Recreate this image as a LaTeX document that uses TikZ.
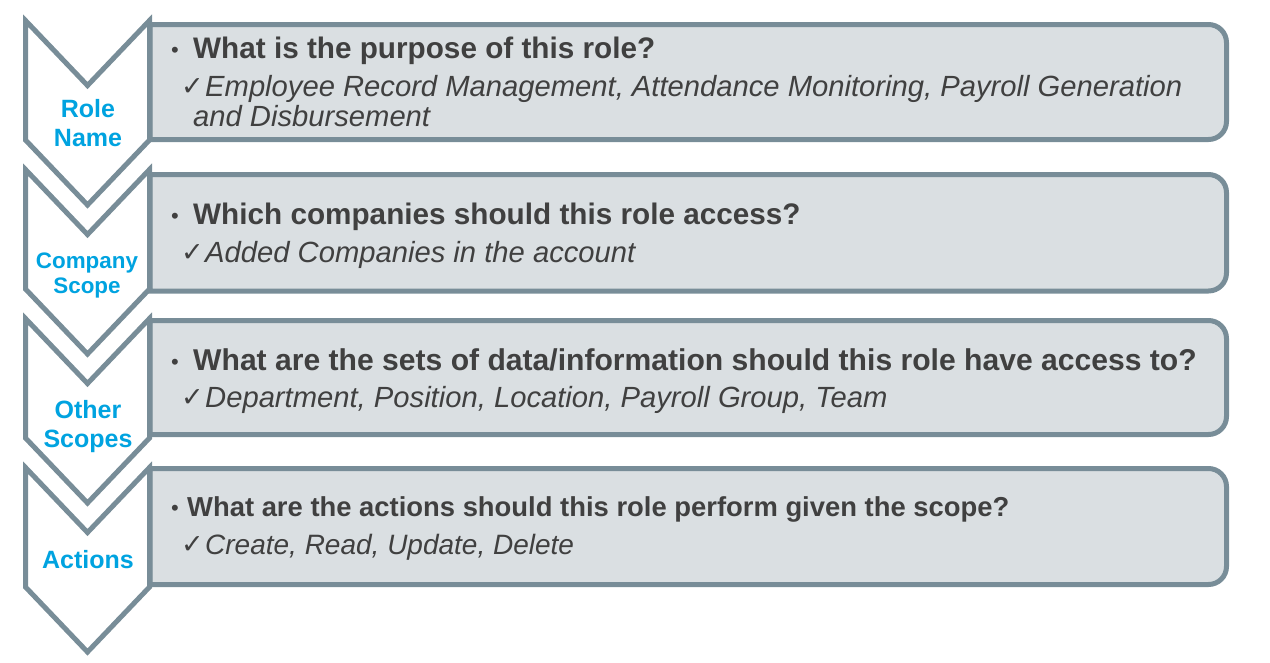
\documentclass[tikz,border=0pt]{standalone}
\usepackage{fontspec}
\setmainfont{Liberation Sans}
\newfontfamily\chkfont{DejaVu Sans}
\definecolor{edge}{RGB}{120,141,152}
\definecolor{boxfill}{RGB}{218,223,226}
\definecolor{lblblue}{RGB}{0,163,224}
\definecolor{txt}{RGB}{64,64,64}
\tikzset{
  chev/.style={draw=edge, line width=5pt, fill=white, line join=miter},
  panel/.style={draw=edge, line width=5pt, fill=boxfill},
  lbl/.style={text=lblblue, font=\bfseries\fontsize{25}{29}\selectfont, align=center, inner sep=0pt},
  lblsmall/.style={lbl, font=\bfseries\fontsize{22.4}{25}\selectfont},
  head/.style={anchor=base west, inner sep=0pt, text=txt, font=\bfseries\fontsize{29.7}{34}\selectfont},
  headwide/.style={head, font=\bfseries\fontsize{30.1}{34}\selectfont},
  headsmall/.style={head, font=\bfseries\fontsize{27.4}{32}\selectfont},
  sub/.style={anchor=base west, inner sep=0pt, text=txt, font=\itshape\fontsize{29.2}{33}\selectfont},
  subsmall/.style={sub, font=\itshape\fontsize{28}{32}\selectfont},
  bul/.style={anchor=base, inner sep=0pt, text=txt, font=\fontsize{22}{24}\selectfont},
  chk/.style={anchor=base west, inner sep=0pt, text=txt, font=\chkfont\fontsize{27}{30}\selectfont},
}
\begin{document}
\begin{tikzpicture}[x=1pt,y=-1pt]
\useasboundingbox (0,0) rectangle (1270,662);
% panels
\foreach \t/\b in {24.5/139.5, 174.5/291, 320.5/434.5, 468.5/584.5}{
  \draw[panel] (150,\t) [rounded corners=18pt] -- (1226.5,\t) -- (1226.5,\b) [sharp corners] -- (150,\b) -- cycle;
}
% chevrons
\foreach \t in {20.5,169.5,318.5,467.5}{
  \draw[chev] (25.5,\t) -- (87.5,\t+65) -- (149.5,\t) -- (149.5,\t+119.5) -- (87.5,\t+184.5) -- (25.5,\t+119.5) -- cycle;
}
% chevron labels
\node[lbl] (role) at (88,123) {Role\\Name};
\node[lblsmall] (company) at (87,275) {Company\\Scope};
\node[lbl] (other) at (88,427) {Other\\Scopes};
\node[lbl] (actions) at (88,560) {Actions};
% panel 1
\node[bul] (b1) at (175,57) {•};
\node[head] (h1) at (193,58) {What is the purpose of this role?};
\node[chk] (c1) at (181,95) {✓};
\node[sub] (s1) at (205,96) {Employee Record Management, Attendance Monitoring, Payroll Generation};
\node[sub] (s1b) at (193,126) {and Disbursement};
% panel 2
\node[bul] (b2) at (175,223) {•};
\node[head] (h2) at (193,224) {Which companies should this role access?};
\node[chk] (c2) at (181,261) {✓};
\node[sub] (s2) at (205,262) {Added Companies in the account};
% panel 3
\node[bul] (b3) at (175,369) {•};
\node[headwide] (h3) at (193,370) {What are the sets of data/information should this role have access to?};
\node[chk] (c3) at (181,406) {✓};
\node[sub] (s3) at (205,407) {Department, Position, Location, Payroll Group, Team};
% panel 4
\node[bul] (b4) at (175,515) {•};
\node[headsmall] (h4) at (187,516) {What are the actions should this role perform given the scope?};
\node[chk] (c4) at (181,553) {✓};
\node[subsmall] (s4) at (205,554) {Create, Read, Update, Delete};
\end{tikzpicture}
\end{document}
